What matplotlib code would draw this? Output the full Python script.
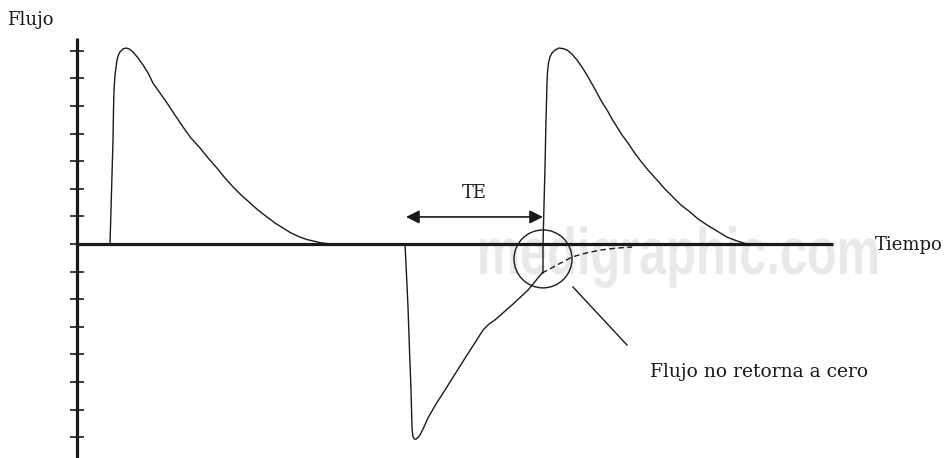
import numpy as np
import matplotlib.pyplot as plt
from matplotlib.patches import Ellipse, PathPatch
from matplotlib.textpath import TextPath
from matplotlib.font_manager import FontProperties
from matplotlib.transforms import Affine2D

# ---- data (time: arbitrary units, flow: tick units) ----
insp1_t = [3.3, 3.6, 3.65, 3.7, 3.8, 4.0, 4.15, 4.3, 4.6, 4.9, 5.2, 5.6, 6.1,
           6.6, 7.1, 7.6, 8.3, 9.0, 9.8, 10.6, 11.4, 12.3, 13.1, 14.0, 14.8,
           15.6, 16.4, 17.3, 18.1, 19.0, 19.8, 20.6, 21.4, 22.3, 23.0, 23.6,
           24.3, 25.1, 25.6]
insp1_f = [0.0, 3.77, 4.86, 5.58, 6.12, 6.67, 6.85, 6.96, 7.07, 7.10, 7.07,
           6.96, 6.74, 6.49, 6.20, 5.83, 5.47, 5.11, 4.67, 4.24, 3.84, 3.48,
           3.12, 2.75, 2.39, 2.07, 1.78, 1.49, 1.23, 0.98, 0.76, 0.58, 0.40,
           0.25, 0.16, 0.11, 0.05, 0.01, 0.0]

# expiration, cut short before flow returns to zero
esp_t = [32.8, 32.95, 33.1, 33.25, 33.4, 33.5, 33.55, 33.6, 33.75, 33.9, 34.1,
         34.3, 34.7, 35.1, 35.9, 36.8, 38.5, 40.6, 41.2, 41.8, 43.5, 45.1, 46.5]
esp_f = [0.0, -1.12, -2.28, -3.84, -5.29, -6.63, -6.85, -6.99, -7.07, -7.07,
         -7.01, -6.92, -6.63, -6.30, -5.80, -5.29, -4.31, -3.12, -2.90, -2.75,
         -2.21, -1.67, -1.05]

# where expiration would have gone (dashed)
resto_t = [46.5, 47.3, 48.0, 48.8, 49.5, 50.9, 52.3, 53.9, 55.5]
resto_f = [-1.05, -0.90, -0.76, -0.61, -0.47, -0.33, -0.22, -0.15, -0.11]

insp2_t = [46.6, 46.6, 46.7, 46.8, 46.9, 47.0, 47.05, 47.15, 47.3, 47.5, 47.8,
           48.2, 48.6, 49.0, 49.5, 50.0, 50.5, 51.0, 51.5, 52.0, 52.5, 53.0,
           53.5, 54.0, 54.5, 55.1, 55.7, 56.3, 57.1, 58.0, 58.8, 59.6, 60.4,
           61.3, 62.1, 63.0, 64.0, 65.0, 66.0, 67.0]
insp2_f = [-1.05, -0.04, 1.41, 2.79, 4.49, 5.83, 6.23, 6.56, 6.78, 6.92, 7.03,
           7.10, 7.08, 7.03, 6.88, 6.67, 6.41, 6.12, 5.80, 5.47, 5.14, 4.86,
           4.53, 4.24, 3.95, 3.66, 3.33, 3.04, 2.68, 2.32, 1.99, 1.70, 1.41,
           1.16, 0.91, 0.69, 0.47, 0.25, 0.11, 0.0]

flow_ticks = list(range(-7, 8))
t_end = 75.6     # end of time axis
f_top = 7.46     # top of flow axis

te_start, te_end, te_level = 32.9, 46.6, 0.98

# ---- figure: 947 x 458 px ----
fig = plt.figure(figsize=(9.47, 4.58), dpi=100)
ax = fig.add_axes([0, 0, 1, 1])
ax.set_xlim(-7.7, 87.0)
ax.set_ylim(-7.754, 8.841)
ax.axis('off')

serif = 'DejaVu Serif'
ink = '#1a1a1a'

# watermark
fp = FontProperties(family='Liberation Sans', weight='bold')
tp = TextPath((0, 0), 'medigraphic.com', size=1, prop=fp)
bb = tp.get_extents()
sx = 397 / bb.width
sy = 66
wm = PathPatch(tp, facecolor='#e9e9e9', edgecolor='none', zorder=0,
               transform=Affine2D().translate(-bb.x0, 0).scale(sx, sy).translate(480, 184))
ax.add_patch(wm)

# axes
ax.plot([0, t_end], [0, 0], color=ink, lw=2.3, solid_capstyle='butt', zorder=3)
ax.plot([0, 0], [-7.9, f_top], color=ink, lw=2.3, solid_capstyle='butt', zorder=3)
ax.hlines(flow_ticks, -0.7, 0.7, color=ink, lw=1.2, zorder=3)

# flow curves
ax.plot(insp1_t, insp1_f, color=ink, lw=1.0, zorder=4)
ax.plot(esp_t, esp_f, color=ink, lw=1.0, zorder=4)
ax.plot(insp2_t, insp2_f, color=ink, lw=1.0, zorder=4)
ax.plot(resto_t, resto_f, color=ink, lw=1.0, ls=(0, (4, 2.5)), zorder=4)

# circle marking non-zero flow
ax.add_patch(Ellipse((46.6, -0.54), 5.8, 2.10, fill=False, ec=ink, lw=1.0, zorder=4))
ax.plot([49.6, 55.0], [-1.56, -3.66], color=ink, lw=1.0)

# TE arrow
ax.annotate('', xy=(te_start, te_level), xytext=(te_end, te_level),
            arrowprops=dict(arrowstyle='<|-|>', color=ink, lw=1.2,
                            mutation_scale=20, shrinkA=0, shrinkB=0))
ax.text(39.7, 1.85, 'TE', family=serif, fontsize=13, ha='center', va='center', color=ink)

# labels
ax.text(-7.0, 8.12, 'Flujo', family=serif, fontsize=13, ha='left', va='center', color=ink)
ax.text(79.8, -0.05, 'Tiempo', family=serif, fontsize=13, ha='left', va='center', color=ink)
ax.text(57.3, -4.64, 'Flujo no retorna a cero', family=serif, fontsize=13.5,
        ha='left', va='center', color=ink)

fig.savefig('out.png', dpi=100)
